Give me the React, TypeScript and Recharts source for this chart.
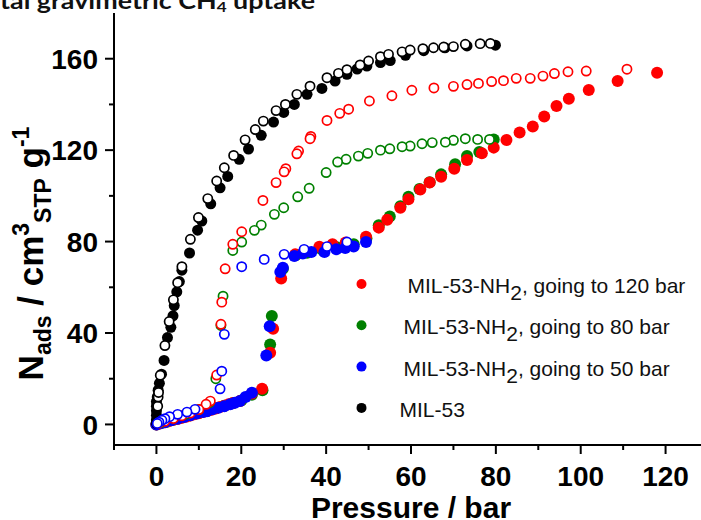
import { Legend, Scatter, ScatterChart, XAxis, YAxis } from 'recharts';

// [pressure (bar), uptake (cm3 STP / g)]
const mil53Ads = [
  [0, 0.5], [0, 2], [0, 4], [0, 6], [0, 8], [0, 10], [0.2, 12], [0.4, 15], [0.7, 18],
  [1.2, 22], [1.8, 28], [2.6, 38], [3.4, 42.5], [3.9, 47.5], [4.2, 52], [4.8, 58],
  [5.4, 62.5], [6, 67.5], [7.8, 75], [9.7, 85], [10.7, 89], [12.8, 96.5], [15, 103.5],
  [16.8, 108.5], [19.5, 116], [21.7, 120.5], [24.7, 126.5], [27.6, 132.3], [30, 136.5],
  [32.5, 140], [35.5, 144.4], [39, 147], [42.1, 150.2], [44.9, 153.2], [47.3, 155.5],
  [49.6, 156.8], [52.8, 158.3], [55.1, 159.2], [58.7, 161.5], [63, 163.5], [68, 164.8],
  [73.2, 165.6], [79.9, 165.9],
];
const mil53Des = [
  [0.3, 8], [0.4, 12], [0.5, 14], [0.9, 21.5], [2, 34.5], [3, 45], [4, 54.5], [5, 62],
  [6, 69], [8, 81], [9.9, 90.5], [12.1, 98.8], [14.2, 106.5], [16, 112.3], [18.2, 117.7],
  [20.9, 124.5], [23.3, 129], [25.2, 132.7], [28.2, 137.3], [30.4, 140], [33.1, 144.4],
  [36.2, 148], [40.2, 151.7], [42.9, 153.6], [44.9, 155.2], [48, 157.3], [50, 159],
  [52.8, 160.9], [54.7, 161.9], [57.9, 163], [59.8, 163.8], [62.8, 164.4], [65.3, 164.8],
  [67.7, 165.1], [70, 165.3], [72.8, 166.3], [76.3, 166.6], [78.7, 166.7],
];
const nh2To120Ads = [
  [0, 0], [0.5, 0.3], [1, 0.6], [2, 1], [3, 1.5], [4, 2], [5, 2.4], [6, 2.9], [7, 3.4],
  [8, 3.9], [9, 4.4], [10, 4.9], [11, 5.4], [12, 5.9], [13, 6.4], [14, 7], [15, 7.6],
  [16, 8.2], [17, 8.8], [18, 9.4], [19.7, 10.2], [22.5, 13.5], [24.9, 15.6], [26.8, 31.4],
  [27.5, 41.9], [29.4, 63.8], [32.7, 74.4], [35, 75.8], [38.4, 77.7], [41.5, 78.8],
  [44.6, 79.6], [49.4, 82.1], [52.4, 86.1], [54.4, 89.5], [57.5, 94.8], [59.4, 98.5],
  [62.2, 102.8], [64.4, 105.8], [67.1, 108.4], [70.2, 111.9], [73.2, 115.7], [76.7, 118.6],
  [79.5, 121.1], [82.5, 124.4], [85.6, 127.7], [88.7, 130.3], [91.4, 134.7], [94.3, 139.3],
  [97.2, 142.5], [101.9, 146.3], [108.7, 150.2], [118, 153.9],
];
const nh2To120Des = [
  [110.9, 155.4], [101.3, 154.6], [97, 154.3], [93.8, 153.5], [91.1, 152.4], [88.1, 151.4],
  [84.8, 151.4], [81.8, 150.4], [79, 150], [75.9, 149.2], [73.2, 148.7], [70, 147.9],
  [65.4, 147.2], [60.2, 146.2], [55.5, 143.8], [50.2, 141.5], [45.3, 137.9], [43.2, 136.1],
  [40.2, 133], [36.4, 126], [36.2, 125], [33.5, 119.6], [33.1, 118.4], [30.5, 111.9],
  [30.1, 110.5], [28.2, 105.8], [25.1, 98], [20.1, 84.3], [18, 78.8], [16.2, 68.1],
  [15.4, 53.5], [15.2, 43.8], [14.2, 21.6], [12.7, 10.2], [11.7, 8.8], [10, 6.5], [8, 5],
  [6, 3.8], [4, 2.6], [2, 1.4], [0.5, 0.4],
];
const nh2To80Ads = [
  [0, 0], [1, 0.5], [2.5, 1.2], [4, 2], [6, 3], [8, 4], [10, 5], [12, 6], [14, 7.1],
  [16, 8.2], [18, 9.3], [20, 10.5], [22.5, 13], [25, 15], [26.8, 35], [27.2, 47.4],
  [29.8, 68.1], [32.8, 74], [35.5, 75.1], [39, 76.5], [42.5, 77.5], [46.5, 78.8],
  [49.5, 81.5], [52.4, 87.1], [55, 91], [57.5, 95.5], [59.4, 99.6], [62, 103], [64.4, 106],
  [67.1, 109.4], [70.4, 113.8], [73.2, 117.4], [76.1, 119.2], [79.5, 124.7],
];
const nh2To80Des = [
  [78.5, 124.7], [75.7, 124.7], [72.8, 125], [70, 124.3], [68.1, 123.5], [65, 123.3],
  [62.6, 122.8], [59.8, 121.8], [57.9, 121.5], [55, 120.6], [52.8, 120], [49.8, 118.6],
  [47.6, 117.4], [44.7, 116], [42.7, 114.8], [40, 110.2], [36, 103.3], [33.3, 99.6],
  [30, 94.8], [27.8, 91.9], [24.7, 87.2], [23.1, 84.9], [20.1, 79.8], [18, 76.1],
  [15.7, 56.1], [15.2, 43.3], [14, 20], [12.5, 9.5], [10, 6.5], [7, 4.5], [4, 2.7], [1, 0.8],
];
const nh2To50Ads = [
  [0, 0], [1, 0.5], [2, 1], [3.5, 1.8], [5, 2.5], [6.5, 3.2], [8, 4], [9.5, 4.8], [11, 5.4],
  [11.9, 5.8], [13.2, 6.6], [14.6, 7.3], [16, 8], [17.4, 8.8], [18.5, 9.5], [19.7, 10.2],
  [21, 12], [22.5, 13.9], [25.9, 30.2], [26.7, 43], [29.2, 66.7], [29.8, 68.6], [32.5, 73.7],
  [34.5, 74.8], [36.5, 75.4], [39.6, 75.4], [42.4, 76.6], [44.5, 77.2], [46.5, 77.8],
  [49.4, 79.8],
];
const nh2To50Des = [
  [44.9, 79.8], [40.2, 77.8], [34.8, 76.6], [30.1, 74.4], [25.4, 72.2], [20.1, 69],
  [16, 39.4], [15.4, 23.3], [15, 15.6], [9.1, 6.6], [7.2, 5.4], [5, 4.4], [3.1, 3.4],
  [2, 2.5], [1.3, 1.8], [0.6, 1], [0.2, 0.4],
];

const yTicks = [0, 20, 40, 60, 80, 100, 120, 140, 160];
const xTicks = [-10, 0, 10, 20, 30, 40, 50, 60, 70, 80, 90, 100, 110, 120, 130];

const legendItems = [
  { color: '#ff0000', label: 'MIL-53-NH', sub: '2', rest: ', going to 120 bar', dx: 46 },
  { color: '#008000', label: 'MIL-53-NH', sub: '2', rest: ', going to 80 bar', dx: 42 },
  { color: '#0000ff', label: 'MIL-53-NH', sub: '2', rest: ', going to 50 bar', dx: 42 },
  { color: '#000000', label: 'MIL-53', sub: '', rest: '', dx: 38 },
];

const FONT = '"Liberation Sans", Arial, sans-serif';

const toPoints = (rows: number[][]) => rows.map(([p, n]) => ({ p, n }));

const filled = (color: string, r = 6) => (props: any) =>
  <circle cx={props.cx} cy={props.cy} r={r} fill={color} />;

const hollow = (color: string) => (props: any) =>
  <circle cx={props.cx} cy={props.cy} r={4.6} fill="#fff" stroke={color} strokeWidth={1.7} />;

function YTick(props: any) {
  const { x, y, payload } = props;
  const major = payload.value % 40 === 0;
  return (
    <g>
      <line x1={x} x2={x - (major ? 9 : 5)} y1={y} y2={y} stroke="#000" strokeWidth={2} />
      {major && (
        <text x={x - 16} y={y} dy="0.36em" textAnchor="end" fontFamily={FONT}
          fontWeight="bold" fontSize={28} fill="#000">
          {payload.value}
        </text>
      )}
    </g>
  );
}

function XTick(props: any) {
  const { x, y, payload } = props;
  const major = payload.value % 20 === 0;
  return (
    <g>
      <line x1={x} x2={x} y1={y} y2={y + (major ? 9 : 5)} stroke="#000" strokeWidth={2} />
      {major && (
        <text x={x} y={y + 41} textAnchor="middle" fontFamily={FONT}
          fontWeight="bold" fontSize={28} fill="#000">
          {payload.value}
        </text>
      )}
    </g>
  );
}

function LegendBox() {
  return (
    <svg width={340} height={150}>
      {legendItems.map((item, i) => (
        <g key={item.label + item.rest} transform={`translate(0, ${14 + i * 41.3})`}>
          <circle cx={11.5} cy={0} r={5} fill={item.color} />
          <text x={item.dx + 11.5} y={9} fontFamily={FONT} fontSize={21} fill="#111">
            {item.label}
            {item.sub && <tspan dy={7}>{item.sub}</tspan>}
            {item.rest && <tspan dy={-7}>{item.rest}</tspan>}
          </text>
        </g>
      ))}
    </svg>
  );
}

export default function App() {
  return (
    <div style={{ position: 'absolute', left: 0, top: 0, width: 701, height: 520, overflow: 'hidden', background: '#fff' }}>
      <svg width={701} height={20} style={{ position: 'absolute', left: 0, top: 0 }}>
        <text x={0} y={8.5} fontFamily="Lato, 'Open Sans', sans-serif" fontWeight="bold"
          fontSize={22} fill="#111" textLength={315} lengthAdjust="spacingAndGlyphs">
          tal gravimetric CH<tspan dy={3} fontSize={14}>4</tspan>
          <tspan dy={-3}> uptake</tspan>
        </text>
      </svg>
      <ScatterChart width={720} height={520} margin={{ top: 13, right: 12, bottom: 0, left: 0 }}>
        <XAxis type="number" dataKey="p" domain={[-10, 130]} ticks={xTicks} height={75}
          tickSize={0} tickMargin={0} tick={<XTick />} axisLine={{ stroke: '#000', strokeWidth: 2 }}
          tickLine={false} interval={0}
          label={{
            content: () => (
              <text x={411} y={518} textAnchor="middle" fontFamily={FONT} fontWeight="bold"
                fontSize={30} fill="#000">
                Pressure / bar
              </text>
            ),
          }} />
        <YAxis type="number" dataKey="n" domain={[-9, 180]} ticks={yTicks} width={114}
          tickSize={0} tickMargin={0} tick={<YTick />} axisLine={{ stroke: '#000', strokeWidth: 2 }}
          tickLine={false} interval={0}
          label={{
            content: () => (
              <text x={43} y={253.5} transform="rotate(-90, 43, 253.5)" textAnchor="middle"
                fontFamily={FONT} fontWeight="bold" fontSize={35} fill="#000">
                N<tspan fontSize={23} dy={8}>ads</tspan>
                <tspan dy={-8}> / cm</tspan>
                <tspan fontSize={23} dy={-14}>3</tspan>
                <tspan fontSize={23} dy={22}>STP</tspan>
                <tspan dy={-8}> g</tspan>
                <tspan fontSize={23} dy={-14}>-1</tspan>
              </text>
            ),
          }} />
        <Legend content={() => <LegendBox />} layout="horizontal" verticalAlign="middle" align="center"
          wrapperStyle={{ position: 'absolute', left: 350, top: 270, width: 340, height: 150 }} />
        <Scatter name="nh2-80-ads" data={toPoints(nh2To80Ads)} shape={filled('#008000')} isAnimationActive={false} />
        <Scatter name="nh2-120-ads" data={toPoints(nh2To120Ads)} shape={filled('#ff0000')} isAnimationActive={false} />
        <Scatter name="nh2-50-ads" data={toPoints(nh2To50Ads)} shape={filled('#0000ff')} isAnimationActive={false} />
        <Scatter name="mil53-ads" data={toPoints(mil53Ads)} shape={filled('#000000', 5.5)} isAnimationActive={false} />
        <Scatter name="nh2-80-des" data={toPoints(nh2To80Des)} shape={hollow('#008000')} isAnimationActive={false} />
        <Scatter name="nh2-120-des" data={toPoints(nh2To120Des)} shape={hollow('#ff0000')} isAnimationActive={false} />
        <Scatter name="nh2-50-des" data={toPoints(nh2To50Des)} shape={hollow('#0000ff')} isAnimationActive={false} />
        <Scatter name="mil53-des" data={toPoints(mil53Des)} shape={hollow('#000000')} isAnimationActive={false} />
      </ScatterChart>
    </div>
  );
}
